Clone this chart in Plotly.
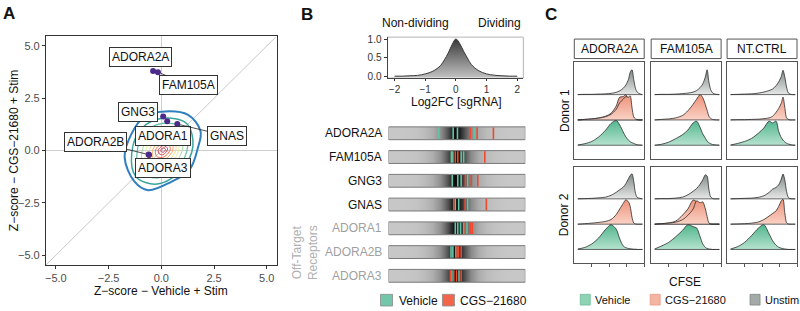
import plotly.graph_objects as go

W, H = 800, 311
FONT = "Liberation Sans, Arial, Helvetica, sans-serif"

# ---------------- Panel A data ----------------
A_genes = ["ADORA2A", "FAM105A", "GNG3", "ADORA1", "GNAS", "ADORA2B", "ADORA3"]
A_vehicle_z = [-0.39, -0.16, 0.09, 0.28, 0.76, -0.60, -0.58]
A_cgs_z = [3.80, 3.75, 1.63, 1.40, 1.27, -0.19, -0.21]

# density contour rings (outer -> inner)
ring1_x = [0.00, -0.79, -1.42, -1.74, -1.28, -0.63, 0.47, 1.33, 1.74, 1.86, 1.27]
ring1_y = [1.86, 1.63, 0.79, -0.31, -1.47, -1.89, -1.49, -0.93, 0.15, 0.93, 1.71]
ring2_x = [0.05, -0.95, -1.40, -1.20, -0.20, 0.95, 1.50, 1.20]
ring2_y = [1.55, 1.05, -0.10, -1.25, -1.60, -0.95, 0.20, 1.30]
ring3_x = [0.05, -0.80, -1.15, -1.00, -0.15, 0.80, 1.25, 1.00]
ring3_y = [1.30, 0.85, -0.10, -1.05, -1.30, -0.80, 0.20, 1.10]
ring4_x = [0.05, -0.62, -0.92, -0.82, -0.10, 0.65, 1.02, 0.82]
ring4_y = [1.05, 0.65, -0.10, -0.85, -1.05, -0.62, 0.18, 0.88]
ring5_x = [0.06, -0.50, -0.75, -0.66, -0.06, 0.55, 0.85, 0.68]
ring5_y = [0.85, 0.50, -0.08, -0.70, -0.85, -0.50, 0.15, 0.72]
ring6_x = [0.07, -0.38, -0.58, -0.50, -0.02, 0.45, 0.70, 0.55]
ring6_y = [0.66, 0.38, -0.06, -0.54, -0.65, -0.38, 0.13, 0.56]
ring7_x = [0.08, -0.26, -0.42, -0.36, 0.01, 0.36, 0.56, 0.43]
ring7_y = [0.50, 0.28, -0.04, -0.40, -0.48, -0.27, 0.12, 0.42]
ring8_x = [0.09, -0.16, -0.28, -0.22, 0.04, 0.28, 0.43, 0.32]
ring8_y = [0.36, 0.20, -0.02, -0.27, -0.33, -0.18, 0.10, 0.30]
ring9_x = [0.10, -0.06, -0.15, -0.10, 0.06, 0.20, 0.30, 0.22]
ring9_y = [0.24, 0.14, 0.00, -0.15, -0.20, -0.10, 0.08, 0.19]
ring10_x = [0.11, -0.03, 0.08, 0.20]
ring10_y = [0.13, 0.03, -0.08, 0.05]

# ---------------- Panel B data ----------------
lfc_grid = [-2, -1.75, -1.5, -1.25, -1, -0.75, -0.5, -0.375, -0.25, -0.125, 0,
            0.125, 0.25, 0.375, 0.5, 0.75, 1, 1.25, 1.5, 1.75, 2]
lfc_density = [0.02, 0.02, 0.03, 0.04, 0.08, 0.15, 0.30, 0.45, 0.63, 0.85, 1.0,
               0.88, 0.68, 0.50, 0.33, 0.16, 0.08, 0.045, 0.03, 0.02, 0.02]
B_genes = ["ADORA2A", "FAM105A", "GNG3", "GNAS", "ADORA1", "ADORA2B", "ADORA3"]
B_offtarget = [False, False, False, False, True, True, True]
B_vehicle_lfc = [[-0.56, -0.09, 0.05, 0.60],
                 [-0.15, -0.10, 0.17, 0.25],
                 [-0.12, 0.06, 0.17, 0.38],
                 [-0.02, 0.09, 0.38],
                 [-0.02, 0.06, 0.15, 0.26, 0.36],
                 [-0.16, -0.10, 0.00],
                 [-0.13, 0.10]]
B_cgs_lfc = [[0.47, 0.69, 1.22],
             [-0.02, 0.06, 0.94],
             [0.31, 0.50, 0.71],
             [-0.07, 0.30, 0.99],
             [0.30, 0.47, 0.53],
             [0.04, 0.09, 0.17],
             [-0.18, -0.07, 0.02, 0.17]]

# ---------------- Panel C data ----------------
C_genes = ["ADORA2A", "FAM105A", "NT.CTRL"]
C_donors = ["Donor 1", "Donor 2"]
cfse_grid = [0.2, 0.6, 1.0, 1.4, 1.8, 2.1, 2.4, 2.6, 2.8, 2.95, 3.1, 3.2, 3.3, 3.4, 3.5, 3.6, 3.75, 3.9]

adora2a_d1_unstim = [0.0, 0.01, 0.01, 0.02, 0.03, 0.05, 0.09, 0.15, 0.25, 0.38, 0.6, 0.88, 0.98, 0.6, 0.25, 0.1, 0.03, 0.0]
adora2a_d1_cgs_a = [0.0, 0.02, 0.04, 0.08, 0.15, 0.26, 0.55, 0.9, 0.92, 1.0, 0.65, 0.3, 0.1, 0.05, 0.02, 0.01, 0.0, 0.0]
adora2a_d1_cgs_b = [0.0, 0.02, 0.04, 0.07, 0.13, 0.22, 0.42, 0.68, 0.82, 0.92, 0.9, 0.95, 0.5, 0.12, 0.04, 0.01, 0.0, 0.0]
adora2a_d1_vehicle = [0.01, 0.06, 0.15, 0.33, 0.6, 0.86, 0.98, 0.8, 0.52, 0.33, 0.2, 0.14, 0.1, 0.07, 0.04, 0.02, 0.01, 0.0]

fam105a_d1_unstim = [0.0, 0.01, 0.01, 0.02, 0.04, 0.06, 0.1, 0.16, 0.28, 0.42, 0.7, 0.98, 0.5, 0.2, 0.08, 0.03, 0.01, 0.0]
fam105a_d1_cgs = [0.0, 0.02, 0.04, 0.08, 0.18, 0.36, 0.62, 0.82, 1.0, 0.88, 0.6, 0.38, 0.15, 0.06, 0.02, 0.01, 0.0, 0.0]
fam105a_d1_vehicle = [0.0, 0.04, 0.12, 0.26, 0.42, 0.6, 0.88, 0.95, 0.7, 0.45, 0.28, 0.16, 0.1, 0.06, 0.03, 0.02, 0.01, 0.0]

ntctrl_d1_unstim = [0.0, 0.01, 0.02, 0.03, 0.06, 0.1, 0.16, 0.22, 0.35, 0.5, 0.72, 0.96, 0.7, 0.3, 0.07, 0.02, 0.0, 0.0]
ntctrl_d1_cgs = [0.0, 0.01, 0.01, 0.02, 0.03, 0.05, 0.08, 0.14, 0.3, 0.45, 0.66, 0.9, 0.5, 0.08, 0.02, 0.0, 0.0, 0.0]
ntctrl_d1_vehicle = [0.01, 0.07, 0.15, 0.27, 0.48, 0.68, 0.95, 0.88, 0.95, 0.55, 0.3, 0.2, 0.13, 0.08, 0.05, 0.03, 0.01, 0.0]

adora2a_d2_unstim = [0.0, 0.01, 0.02, 0.04, 0.07, 0.14, 0.26, 0.36, 0.46, 0.6, 0.8, 0.92, 0.99, 0.7, 0.22, 0.06, 0.02, 0.0]
adora2a_d2_cgs = [0.0, 0.02, 0.04, 0.07, 0.11, 0.18, 0.38, 0.6, 0.82, 0.96, 0.88, 0.7, 0.28, 0.05, 0.01, 0.0, 0.0, 0.0]
adora2a_d2_vehicle = [0.02, 0.08, 0.22, 0.46, 0.8, 0.98, 0.8, 0.42, 0.14, 0.07, 0.04, 0.03, 0.02, 0.01, 0.01, 0.0, 0.0, 0.0]

fam105a_d2_unstim = [0.0, 0.01, 0.01, 0.03, 0.07, 0.16, 0.3, 0.41, 0.58, 0.75, 0.95, 0.9, 0.38, 0.08, 0.02, 0.0, 0.0, 0.0]
fam105a_d2_cgs_a = [0.0, 0.02, 0.05, 0.12, 0.36, 0.6, 0.95, 0.88, 0.55, 0.35, 0.15, 0.05, 0.02, 0.0, 0.0, 0.0, 0.0, 0.0]
fam105a_d2_cgs_b = [0.0, 0.02, 0.04, 0.08, 0.18, 0.35, 0.6, 0.92, 0.85, 0.88, 0.6, 0.3, 0.05, 0.01, 0.0, 0.0, 0.0, 0.0]
fam105a_d2_vehicle = [0.02, 0.14, 0.28, 0.5, 0.76, 0.98, 0.9, 0.85, 0.5, 0.22, 0.08, 0.04, 0.02, 0.01, 0.0, 0.0, 0.0, 0.0]

ntctrl_d2_unstim = [0.0, 0.01, 0.02, 0.03, 0.06, 0.12, 0.25, 0.38, 0.45, 0.55, 0.78, 0.98, 0.75, 0.3, 0.06, 0.01, 0.0, 0.0]
ntctrl_d2_cgs = [0.0, 0.01, 0.02, 0.04, 0.09, 0.18, 0.32, 0.42, 0.52, 0.7, 0.92, 0.98, 0.45, 0.06, 0.01, 0.0, 0.0, 0.0]
ntctrl_d2_vehicle = [0.02, 0.11, 0.28, 0.55, 0.85, 0.98, 0.62, 0.35, 0.17, 0.09, 0.05, 0.03, 0.02, 0.01, 0.0, 0.0, 0.0, 0.0]

# panel table built from the named arrays: (donor row, gene col) -> condition -> replicates
C_table = {
    (0, 0): {"Unstim": [adora2a_d1_unstim], "CGS": [adora2a_d1_cgs_a, adora2a_d1_cgs_b], "Vehicle": [adora2a_d1_vehicle]},
    (0, 1): {"Unstim": [fam105a_d1_unstim], "CGS": [fam105a_d1_cgs], "Vehicle": [fam105a_d1_vehicle]},
    (0, 2): {"Unstim": [ntctrl_d1_unstim], "CGS": [ntctrl_d1_cgs], "Vehicle": [ntctrl_d1_vehicle]},
    (1, 0): {"Unstim": [adora2a_d2_unstim], "CGS": [adora2a_d2_cgs], "Vehicle": [adora2a_d2_vehicle]},
    (1, 1): {"Unstim": [fam105a_d2_unstim], "CGS": [fam105a_d2_cgs_a, fam105a_d2_cgs_b], "Vehicle": [fam105a_d2_vehicle]},
    (1, 2): {"Unstim": [ntctrl_d2_unstim], "CGS": [ntctrl_d2_cgs], "Vehicle": [ntctrl_d2_vehicle]},
}
C_baseline = {"Unstim": 2, "CGS": 1, "Vehicle": 0}


# ---------------- helpers ----------------
def dom_x(a, b):
    return [a / W, b / W]


def dom_y(top, bottom):
    return [1 - bottom / H, 1 - top / H]


def pxx(v):
    return v / W


def pxy(v):
    return 1 - v / H


fig = go.Figure()
annotations = []
shapes = []


def ann(**kw):
    d = dict(showarrow=False, xanchor="center", yanchor="middle", xref="paper", yref="paper")
    d.update(kw)
    annotations.append(d)


def fnt(size=12, color="#111"):
    return dict(size=size, color=color, family=FONT)


# ================= Panel A =================
rings = [(ring1_x, ring1_y, "#2f7fbf", 2.0),
         (ring2_x, ring2_y, "#3aa59c", 1.5),
         (ring3_x, ring3_y, "#5dbfa4", 1.2),
         (ring4_x, ring4_y, "#a6dba2", 1.0),
         (ring5_x, ring5_y, "#e3f29a", 1.0),
         (ring6_x, ring6_y, "#fed884", 1.0),
         (ring7_x, ring7_y, "#fca55d", 1.0),
         (ring8_x, ring8_y, "#f26a44", 1.0),
         (ring9_x, ring9_y, "#d93b48", 1.0),
         (ring10_x, ring10_y, "#d0304a", 1.0)]
for rx, ry, col, wd in rings:
    fig.add_trace(go.Scatter(x=rx + rx[:1], y=ry + ry[:1], mode="lines", xaxis="x", yaxis="y",
                             line=dict(color=col, width=wd, shape="spline", smoothing=1.0),
                             hoverinfo="skip", showlegend=False))

fig.add_trace(go.Scatter(x=A_vehicle_z, y=A_cgs_z, mode="markers", xaxis="x", yaxis="y",
                         marker=dict(color="#4b2a8a", size=6), showlegend=False, text=A_genes))

A_label_offsets = {  # pixel offset of label centre from point, draw segment?
    "ADORA2A": (-13, -14, False),
    "FAM105A": (31, 13, True),
    "GNG3": (-25, -5, False),
    "ADORA1": (-4, 15, False),
    "GNAS": (50, 12, True),
    "ADORA2B": (-53, -13, True),
    "ADORA3": (14, 13, False),
}
for g, xv, yv in zip(A_genes, A_vehicle_z, A_cgs_z):
    dx, dy, seg = A_label_offsets[g]
    annotations.append(dict(x=xv, y=yv, xref="x", yref="y", text=g, showarrow=True,
                            ax=dx, ay=dy, arrowhead=0, arrowwidth=0.8,
                            arrowcolor="#222" if seg else "rgba(0,0,0,0)", standoff=3,
                            bgcolor="white", bordercolor="#333", borderwidth=1, borderpad=2,
                            font=fnt(12)))

shapes.append(dict(type="line", xref="x", yref="y", x0=-5.47, y0=-5.47, x1=5.47, y1=5.47,
                   line=dict(color="#c8c8c8", width=1), layer="below"))

ann(x=pxx(160), y=pxy(295), text="Z\u2212score \u2212 Vehicle + Stim", font=fnt(12))
ann(x=pxx(13), y=pxy(150), textangle=-90, text="Z\u2212score \u2212 CGS\u221221680 + Stim", font=fnt(12))

# ================= Panel B =================
fig.add_trace(go.Scatter(x=lfc_grid, y=lfc_density, mode="lines", xaxis="x2", yaxis="y2",
                         line=dict(color="#3a3a3a", width=1, shape="spline"), fill="tozeroy",
                         fillgradient=dict(type="vertical", start=0, stop=1,
                                           colorscale=[[0, "#c2c2c2"], [1, "#3a3a3a"]]),
                         hoverinfo="skip", showlegend=False))

bar_x0, bar_x1 = -2.195, 2.26
hh = 0.27


def bar_scale():
    stops = []
    for xv, d in zip(lfc_grid, lfc_density):
        pos = (xv - bar_x0) / (bar_x1 - bar_x0)
        v = int(round(203 - 195 * d))
        stops.append([pos, "rgb(%d,%d,%d)" % (v, v, v)])
    return [[0, stops[0][1]]] + stops + [[1, stops[-1][1]]]


bscale = bar_scale()
for i, g in enumerate(B_genes):
    fig.add_trace(go.Scatter(x=[bar_x0, bar_x1, bar_x1, bar_x0, bar_x0],
                             y=[i - hh, i - hh, i + hh, i + hh, i - hh],
                             mode="lines", xaxis="x3", yaxis="y3", fill="toself",
                             fillgradient=dict(type="horizontal", start=bar_x0, stop=bar_x1, colorscale=bscale),
                             line=dict(color="#7a7a7a", width=1), hoverinfo="skip", showlegend=False))

for vals_list, col in ((B_vehicle_lfc, "#66c2a5"), (B_cgs_lfc, "#ef4a30")):
    xs, ys = [], []
    for i, vals in enumerate(vals_list):
        for v in vals:
            xs += [v, v, None]
            ys += [i - hh + 0.03, i + hh - 0.03, None]
    fig.add_trace(go.Scatter(x=xs, y=ys, mode="lines", xaxis="x3", yaxis="y3",
                             line=dict(color=col, width=1.6), hoverinfo="skip", showlegend=False))

for i, (g, off) in enumerate(zip(B_genes, B_offtarget)):
    ann(x=pxx(383), y=i, yref="y3", text=g, xanchor="right", font=fnt(12, "#a0a0a0" if off else "#111"))

ann(x=pxx(305), y=pxy(255), textangle=-90, text="Off-Target<br>Receptors", font=fnt(12, "#b0b0b0"))
ann(x=pxx(415), y=pxy(20), text="Non-dividing", font=fnt(12))
ann(x=pxx(499), y=pxy(20), text="Dividing", font=fnt(12))
ann(x=pxx(456), y=pxy(101), text="Log2FC [sgRNA]", font=fnt(12))
shapes.append(dict(type="rect", xref="x2 domain", yref="y2 domain", x0=0, y0=0, x1=1, y1=1,
                   line=dict(color="#b5b5b5", width=1), layer="below"))

# legend B
shapes.append(dict(type="rect", xref="paper", yref="paper", x0=pxx(380), x1=pxx(392), y0=pxy(310), y1=pxy(298),
                   fillcolor="#72c7aa", line=dict(color="#8a8a8a", width=0.8)))
ann(x=pxx(396), y=pxy(304.5), xanchor="left", text="Vehicle", font=fnt(12))
shapes.append(dict(type="rect", xref="paper", yref="paper", x0=pxx(442), x1=pxx(454), y0=pxy(310), y1=pxy(298),
                   fillcolor="#f2654b", line=dict(color="#8a8a8a", width=0.8)))
ann(x=pxx(458), y=pxy(304.5), xanchor="left", text="CGS\u221221680", font=fnt(12))

# ================= Panel C =================
C_cols = [(574, 644), (651, 721), (727, 797)]
C_rows = [(60, 159), (167, 266)]
C_fill = {"Unstim": ("#e9ebea", "#7f8985"),
          "CGS": ("#fad6ca", "#ee937b"),
          "Vehicle": ("#bfe6d4", "#56b891")}

layout_axes = {}
for r in range(2):
    for c in range(3):
        k = 4 + r * 3 + c
        xa, ya = "x%d" % k, "y%d" % k
        for cond in ("Unstim", "CGS", "Vehicle"):
            base = C_baseline[cond]
            lo, hi = C_fill[cond]
            for rep_i, rep in enumerate(C_table[(r, c)][cond]):
                fig.add_trace(go.Scatter(x=[cfse_grid[0], cfse_grid[-1]], y=[base, base], mode="lines",
                                         xaxis=xa, yaxis=ya, line=dict(color="#444", width=0.8),
                                         hoverinfo="skip", showlegend=False))
                alpha = 0.92 if rep_i == 0 else 0.55
                fig.add_trace(go.Scatter(x=cfse_grid, y=[base + h for h in rep], mode="lines",
                                         xaxis=xa, yaxis=ya, fill="tonexty",
                                         fillgradient=dict(type="vertical", start=base, stop=base + 1,
                                                           colorscale=[[0, lo], [1, hi]]),
                                         opacity=alpha,
                                         line=dict(color="#2a2a2a", width=0.8, shape="spline", smoothing=0.8),
                                         hoverinfo="skip", showlegend=False))
        layout_axes["xaxis%d" % k] = dict(domain=dom_x(*C_cols[c]), anchor=ya, range=[0, 4.0],
                                          showgrid=False, zeroline=False, showline=True, mirror=True,
                                          linecolor="#555", linewidth=1,
                                          tickvals=[1, 2, 3, 4] if r == 1 else [],
                                          ticks="outside" if r == 1 else "", ticklen=3, tickcolor="#555",
                                          showticklabels=False)
        layout_axes["yaxis%d" % k] = dict(domain=dom_y(*C_rows[r]), anchor=xa, range=[-0.54, 3.27],
                                          showgrid=False, zeroline=False, showline=True, mirror=True,
                                          linecolor="#555", linewidth=1, ticks="", showticklabels=False)

for c, g in enumerate(C_genes):
    x0, x1 = C_cols[c]
    shapes.append(dict(type="rect", xref="paper", yref="paper", x0=pxx(x0), x1=pxx(x1), y0=pxy(56), y1=pxy(36),
                       fillcolor="white", line=dict(color="#555", width=1)))
    ann(x=pxx((x0 + x1) / 2), y=pxy(46), text=g, font=fnt(12))
for r, d in enumerate(C_donors):
    t, b = C_rows[r]
    ann(x=pxx(564), y=pxy((t + b) / 2), textangle=-90, text=d, font=fnt(12))
ann(x=pxx(685), y=pxy(285), text="CFSE", font=fnt(12))

C_leg = [("Vehicle", 580, "#8fd3b6", "#6dbb9b"), ("CGS\u221221680", 650, "#f5b5a3", "#e79884"),
         ("Unstim", 750, "#a3aaa7", "#7e8683")]
for txt, x0, fc, lc in C_leg:
    shapes.append(dict(type="rect", xref="paper", yref="paper", x0=pxx(x0), x1=pxx(x0 + 10),
                       y0=pxy(309), y1=pxy(298), fillcolor=fc, line=dict(color=lc, width=0.8)))
    ann(x=pxx(x0 + 13), y=pxy(304), xanchor="left", text=txt, font=fnt(11))

# panel letters
for letter, x, y in (("A", 8, 10), ("B", 306, 11), ("C", 551, 11)):
    ann(x=pxx(x), y=pxy(y), text="<b>%s</b>" % letter, font=fnt(17))

tick_font = dict(size=11, color="#4d4d4d", family=FONT)
fig.update_layout(
    width=W, height=H, margin=dict(l=0, r=0, t=0, b=0),
    paper_bgcolor="white", plot_bgcolor="white", showlegend=False,
    font=dict(family=FONT, color="#111"),
    xaxis=dict(domain=dom_x(45, 276), anchor="y", range=[-5.47, 5.47],
               tickvals=[-5, -2.5, 0, 2.5, 5], ticktext=["\u22125.0", "\u22122.5", "0.0", "2.5", "5.0"],
               ticks="outside", ticklen=3, tickcolor="#333", tickfont=tick_font,
               showline=True, mirror=True, linecolor="#333", linewidth=1,
               showgrid=False, zeroline=True, zerolinecolor="#cfcfcf", zerolinewidth=1),
    yaxis=dict(domain=dom_y(33, 268), anchor="x", range=[-5.47, 5.47],
               tickvals=[-5, -2.5, 0, 2.5, 5], ticktext=["\u22125.0", "\u22122.5", "0.0", "2.5", "5.0"],
               ticks="outside", ticklen=3, tickcolor="#333", tickfont=tick_font,
               showline=True, mirror=True, linecolor="#333", linewidth=1,
               showgrid=False, zeroline=True, zerolinecolor="#cfcfcf", zerolinewidth=1),
    xaxis2=dict(domain=dom_x(387, 523), anchor="y2", range=[-2.23, 2.2],
                tickvals=[-2, -1, 0, 1, 2], ticks="outside", ticklen=2, tickcolor="#333",
                tickfont=dict(size=10, color="#333", family=FONT),
                showline=True, linecolor="#444", linewidth=1, showgrid=False, zeroline=False),
    yaxis2=dict(domain=dom_y(34, 76), anchor="x2", range=[-0.03, 1.05],
                tickvals=[0, 0.5, 1], tickformat=".1f", ticks="outside", ticklen=3, tickcolor="#333",
                tickfont=dict(size=10, color="#333", family=FONT),
                showline=True, linecolor="#444", linewidth=1, showgrid=False, zeroline=False),
    xaxis3=dict(domain=dom_x(388, 525), anchor="y3", range=[bar_x0, bar_x1], visible=False),
    yaxis3=dict(domain=dom_y(120.5, 291.2), anchor="x3", range=[6.5, -0.5], visible=False),
    annotations=annotations, shapes=shapes,
    **layout_axes,
)

fig.write_html("out.html", config={"displayModeBar": False},
               post_script="document.body.style.margin='0px';document.body.style.padding='0px';")
